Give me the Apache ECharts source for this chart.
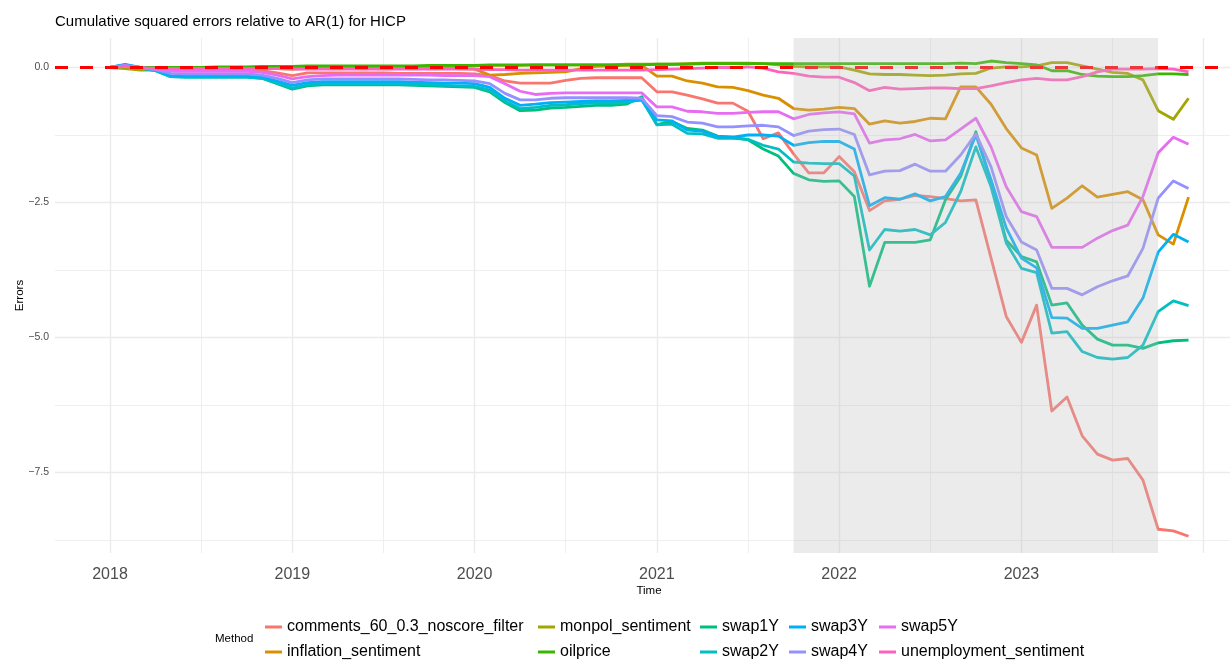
<!DOCTYPE html>
<html>
<head>
<meta charset="utf-8">
<title>Cumulative squared errors relative to AR(1) for HICP</title>
<script src="https://cdn.jsdelivr.net/npm/echarts@6.0.0/dist/echarts.min.js"></script>
<style>
  html, body { margin: 0; padding: 0; background: #fff; }
  #app { width: 1230px; height: 662px; }
</style>
</head>
<body>
<div id="app"></div>
<script>
// monthly values, index 0 = 2018-01 ... index 71 = 2023-12
var startYear = 2018;

var comments = [
  0, 0.04, 0, -0.03, -0.05, -0.05, -0.05, -0.05, -0.05, -0.05, -0.06, -0.1,
  -0.15, -0.1, -0.1, -0.1, -0.1, -0.1, -0.1, -0.11, -0.11, -0.11, -0.11, -0.11,
  -0.12, -0.15, -0.25, -0.29, -0.29, -0.29, -0.24, -0.2, -0.19, -0.19, -0.19, -0.19,
  -0.45, -0.45, -0.51, -0.58, -0.66, -0.66, -0.81, -1.32, -1.21, -1.6, -1.95, -1.95,
  -1.65, -1.93, -2.65, -2.47, -2.44, -2.37, -2.39, -2.43, -2.47, -2.45, -3.53, -4.61,
  -5.09, -4.40, -6.36, -6.10, -6.82, -7.16, -7.27, -7.24, -7.64, -8.55, -8.58, -8.68
];
var inflation = [
  0, 0.01, -0.03, -0.02, -0.02, -0.02, -0.02, -0.02, -0.02, -0.02, -0.02, -0.02,
  -0.03, -0.02, -0.02, -0.02, -0.02, -0.02, -0.02, -0.02, -0.02, -0.02, -0.02, -0.02,
  -0.03, -0.14, -0.13, -0.11, -0.1, -0.09, -0.08, -0.02, 0.02, 0.03, 0.04, 0.04,
  -0.16, -0.16, -0.25, -0.29, -0.36, -0.37, -0.43, -0.51, -0.57, -0.76, -0.79, -0.77,
  -0.74, -0.76, -1.05, -0.99, -1.03, -1.00, -0.94, -0.95, -0.36, -0.36, -0.68, -1.13,
  -1.49, -1.62, -2.61, -2.42, -2.19, -2.40, -2.35, -2.30, -2.45, -3.10, -3.27, -2.40
];
var monpol = [
  0, -0.02, -0.05, -0.05, -0.04, -0.03, -0.02, -0.01, 0, 0, 0, 0,
  0, 0, 0, 0.01, 0.01, 0.01, 0.01, 0.02, 0.02, 0.02, 0.02, 0.02,
  0.03, 0.04, 0.04, 0.04, 0.05, 0.05, 0.05, 0.05, 0.05, 0.05, 0.06, 0.06,
  0.06, 0.06, 0.07, 0.08, 0.08, 0.08, 0.08, 0.07, 0.05, 0.02, 0.01, 0.01,
  0.01, -0.05, -0.12, -0.13, -0.13, -0.14, -0.15, -0.14, -0.12, -0.11, -0.01, 0.01,
  0.01, 0.03, 0.09, 0.09, 0.03, -0.03, -0.09, -0.11, -0.23, -0.80, -0.96, -0.57
];
var oilprice = [
  0, 0.02, 0, 0, 0, 0, 0, 0.01, 0.01, 0.01, 0.02, 0.02,
  0.02, 0.03, 0.03, 0.03, 0.03, 0.03, 0.03, 0.03, 0.03, 0.04, 0.04, 0.04,
  0.04, 0.05, 0.05, 0.05, 0.05, 0.05, 0.05, 0.05, 0.05, 0.05, 0.05, 0.05,
  0.06, 0.06, 0.06, 0.07, 0.07, 0.07, 0.07, 0.07, 0.07, 0.07, 0.07, 0.07,
  0.07, 0.07, 0.07, 0.07, 0.07, 0.07, 0.07, 0.07, 0.08, 0.07, 0.12, 0.09,
  0.07, 0.05, -0.06, -0.06, -0.13, -0.16, -0.17, -0.17, -0.15, -0.12, -0.12, -0.13
];
var swap1Y = [
  0, 0.05, -0.01, -0.06, -0.17, -0.18, -0.18, -0.18, -0.18, -0.18, -0.2, -0.3,
  -0.40, -0.34, -0.32, -0.32, -0.32, -0.32, -0.32, -0.32, -0.33, -0.34, -0.35, -0.36,
  -0.37, -0.45, -0.65, -0.80, -0.79, -0.75, -0.74, -0.72, -0.70, -0.70, -0.68, -0.54,
  -1.06, -1.00, -1.13, -1.16, -1.27, -1.29, -1.34, -1.51, -1.64, -1.96, -2.08, -2.11,
  -2.10, -2.39, -4.05, -3.24, -3.24, -3.24, -3.19, -2.45, -2.02, -1.19, -2.14, -3.20,
  -3.50, -3.60, -4.40, -4.36, -4.77, -5.03, -5.14, -5.14, -5.20, -5.10, -5.06, -5.05
];
var swap2Y = [
  0, 0.05, -0.01, -0.06, -0.17, -0.18, -0.18, -0.18, -0.18, -0.18, -0.2, -0.29,
  -0.38, -0.32, -0.30, -0.30, -0.30, -0.30, -0.30, -0.30, -0.31, -0.32, -0.33, -0.34,
  -0.35, -0.42, -0.62, -0.76, -0.74, -0.70, -0.69, -0.67, -0.66, -0.66, -0.64, -0.60,
  -1.06, -1.05, -1.22, -1.23, -1.31, -1.31, -1.33, -1.44, -1.51, -1.75, -1.77, -1.78,
  -1.78, -2.01, -3.38, -3.00, -3.03, -3.00, -3.10, -2.87, -2.30, -1.47, -2.21, -3.25,
  -3.72, -3.80, -4.92, -4.89, -5.26, -5.37, -5.40, -5.37, -5.14, -4.52, -4.32, -4.41
];
var swap3Y = [
  0, 0.06, 0, -0.05, -0.15, -0.16, -0.16, -0.16, -0.16, -0.16, -0.18, -0.25,
  -0.33, -0.28, -0.26, -0.26, -0.26, -0.26, -0.26, -0.26, -0.27, -0.28, -0.29, -0.29,
  -0.30, -0.37, -0.57, -0.70, -0.68, -0.65, -0.64, -0.63, -0.62, -0.62, -0.61, -0.60,
  -0.97, -0.99, -1.16, -1.18, -1.28, -1.29, -1.25, -1.25, -1.27, -1.44, -1.39, -1.37,
  -1.37, -1.51, -2.56, -2.41, -2.44, -2.34, -2.47, -2.39, -1.96, -1.25, -2.08, -2.97,
  -3.53, -3.71, -4.63, -4.64, -4.83, -4.83, -4.77, -4.71, -4.27, -3.42, -3.09, -3.23
];
var swap4Y = [
  0, 0.04, 0, -0.04, -0.11, -0.12, -0.12, -0.12, -0.12, -0.12, -0.14, -0.2,
  -0.28, -0.23, -0.21, -0.21, -0.21, -0.21, -0.21, -0.21, -0.22, -0.23, -0.23, -0.24,
  -0.25, -0.30, -0.48, -0.60, -0.60, -0.57, -0.56, -0.56, -0.56, -0.56, -0.56, -0.57,
  -0.89, -0.91, -1.01, -1.03, -1.10, -1.10, -1.08, -1.07, -1.10, -1.26, -1.18, -1.15,
  -1.14, -1.24, -1.99, -1.92, -1.91, -1.79, -1.92, -1.92, -1.62, -1.23, -1.84, -2.76,
  -3.23, -3.38, -4.09, -4.09, -4.21, -4.06, -3.95, -3.86, -3.35, -2.42, -2.10, -2.24
];
var swap5Y = [
  0, 0.03, -0.01, -0.03, -0.06, -0.07, -0.07, -0.07, -0.07, -0.07, -0.09, -0.14,
  -0.21, -0.17, -0.15, -0.14, -0.14, -0.14, -0.14, -0.14, -0.14, -0.14, -0.15, -0.15,
  -0.15, -0.17, -0.30, -0.44, -0.50, -0.48, -0.47, -0.47, -0.47, -0.47, -0.47, -0.47,
  -0.73, -0.73, -0.81, -0.82, -0.85, -0.85, -0.83, -0.82, -0.82, -0.95, -0.87, -0.84,
  -0.82, -0.86, -1.40, -1.34, -1.32, -1.24, -1.36, -1.34, -1.14, -0.94, -1.47, -2.21,
  -2.67, -2.76, -3.33, -3.33, -3.33, -3.16, -3.02, -2.92, -2.39, -1.58, -1.29, -1.42
];
var unemployment = [
  0, 0.02, -0.01, -0.01, -0.02, -0.02, -0.02, -0.02, -0.02, -0.02, -0.02, -0.02,
  -0.03, -0.03, -0.03, -0.03, -0.03, -0.03, -0.03, -0.03, -0.03, -0.03, -0.03, -0.03,
  -0.03, -0.04, -0.04, -0.05, -0.05, -0.05, -0.05, -0.05, -0.05, -0.05, -0.05, -0.05,
  -0.04, -0.03, -0.02, -0.01, 0, 0, 0.01, -0.01, -0.08, -0.11, -0.16, -0.18,
  -0.18, -0.28, -0.43, -0.37, -0.40, -0.39, -0.38, -0.38, -0.39, -0.39, -0.34, -0.28,
  -0.23, -0.20, -0.23, -0.23, -0.17, -0.08, -0.03, -0.03, -0.03, -0.02, -0.03, -0.08
];

var methods = [
  'comments_60_0.3_noscore_filter', 'inflation_sentiment', 'monpol_sentiment', 'oilprice',
  'swap1Y', 'swap2Y', 'swap3Y', 'swap4Y', 'swap5Y', 'unemployment_sentiment'
];
var methodValues = [comments, inflation, monpol, oilprice, swap1Y, swap2Y, swap3Y, swap4Y, swap5Y, unemployment];
var colors = ['#F8766D', '#D89000', '#A3A500', '#39B600', '#00BF7D', '#00BFC4', '#00B0F6', '#9590FF', '#E76BF3', '#FF62BC'];

// axis breaks (month index) and error breaks
var yearTicks = [0, 12, 24, 36, 48, 60, 72];
var yearLabelTicks = [0, 12, 24, 36, 48, 60];
var halfYearTicks = [6, 18, 30, 42, 54, 66];
var errorTicks = [0, -2.5, -5, -7.5];
var errorMinorTicks = [-1.25, -3.75, -6.25, -8.75];

// shaded evaluation window: 2021-10 .. 2023-10
var shadeFrom = 45;
var shadeTo = 69;

var gridColor = '#ebebeb';
var tickColor = '#4d4d4d';

var chart = echarts.init(document.getElementById('app'), null, { renderer: 'canvas' });

function fmtError(v) {
  var s = (Math.round(v * 10) / 10).toFixed(1);
  return s.replace('-', '\u2212');
}

var series = methods.map(function (name, k) {
  return {
    name: name,
    type: 'line',
    data: methodValues[k].map(function (v, i) { return [i, v]; }),
    showSymbol: false,
    symbol: 'none',
    lineStyle: { width: 2.8, color: colors[k], join: 'round' },
    itemStyle: { color: colors[k] },
    emphasis: { disabled: true },
    z: 2
  };
});

// red dashed reference line at zero
series.push({
  type: 'line',
  data: [],
  silent: true,
  markLine: {
    silent: true,
    symbol: ['none', 'none'],
    label: { show: false },
    lineStyle: { color: '#ff0000', width: 3, type: [13, 12] },
    data: [{ yAxis: 0 }],
    z: 5
  }
});

// grey window drawn over the lines
series.push({
  type: 'line',
  data: [],
  silent: true,
  markArea: {
    silent: true,
    itemStyle: { color: 'rgba(190,190,190,0.3)' },
    data: [[{ xAxis: shadeFrom }, { xAxis: shadeTo }]],
    z: 10
  }
});

// legend: 5 columns x 2 rows, filled column by column like ggplot
var legendLefts = [265, 538, 700, 789, 879];
var legendTops = [619, 644];
var legends = methods.map(function (name, k) {
  return {
    left: legendLefts[Math.floor(k / 2)],
    top: legendTops[k % 2],
    padding: 0,
    itemWidth: 17,
    itemHeight: 3,
    icon: 'rect',
    selectedMode: false,
    textStyle: { fontSize: 16, color: '#000', fontFamily: 'Liberation Sans' },
    data: [name]
  };
});

var option = {
  animation: false,
  backgroundColor: '#fff',
  textStyle: { fontFamily: 'Liberation Sans' },
  title: [{
    text: 'Cumulative squared errors relative to AR(1) for HICP',
    left: 55,
    top: 14,
    padding: 0,
    textStyle: { fontSize: 15, fontWeight: 'normal', color: '#000' }
  }, {
    text: 'Method',
    left: 215,
    top: 633,
    padding: 0,
    textStyle: { fontSize: 11.5, fontWeight: 'normal', color: '#000' }
  }],
  legend: legends,
  grid: { left: 55, right: 0, top: 38, bottom: 109, containLabel: false, outerBoundsMode: 'none' },
  xAxis: [{
    type: 'value',
    min: -3.62,
    max: 73.73,
    position: 'bottom',
    axisLine: { show: false },
    axisTick: { show: false, customValues: yearTicks },
    axisLabel: {
      customValues: yearLabelTicks,
      formatter: function (v) { return String(startYear + Math.round(v / 12)); },
      fontSize: 16,
      color: tickColor,
      margin: 14
    },
    splitLine: { show: true, lineStyle: { color: gridColor, width: 1.4 } },
    name: 'Time',
    nameLocation: 'middle',
    nameGap: 32,
    nameMoveOverlap: false,
    nameTextStyle: { fontSize: 11.5, color: '#000', padding: [0, 0, 0, 13] }
  }, {
    type: 'value',
    min: -3.62,
    max: 73.73,
    position: 'bottom',
    axisLine: { show: false },
    axisTick: { show: false, customValues: halfYearTicks },
    axisLabel: { show: false },
    splitLine: { show: true, lineStyle: { color: gridColor, width: 0.8 } }
  }],
  yAxis: [{
    type: 'value',
    min: -8.99,
    max: 0.546,
    position: 'left',
    axisLine: { show: false },
    axisTick: { show: false, customValues: errorTicks },
    axisLabel: {
      customValues: errorTicks,
      formatter: fmtError,
      fontSize: 10.5,
      color: tickColor,
      margin: 6
    },
    splitLine: { show: true, lineStyle: { color: gridColor, width: 1.4 } },
    name: 'Errors',
    nameLocation: 'middle',
    nameGap: 29,
    nameMoveOverlap: false,
    nameRotate: 90,
    nameTextStyle: { fontSize: 11.5, color: '#000' }
  }, {
    type: 'value',
    min: -8.99,
    max: 0.546,
    position: 'left',
    axisLine: { show: false },
    axisTick: { show: false, customValues: errorMinorTicks },
    axisLabel: { show: false },
    splitLine: { show: true, lineStyle: { color: gridColor, width: 0.8 } }
  }],
  series: series
};

chart.setOption(option);
</script>
</body>
</html>
